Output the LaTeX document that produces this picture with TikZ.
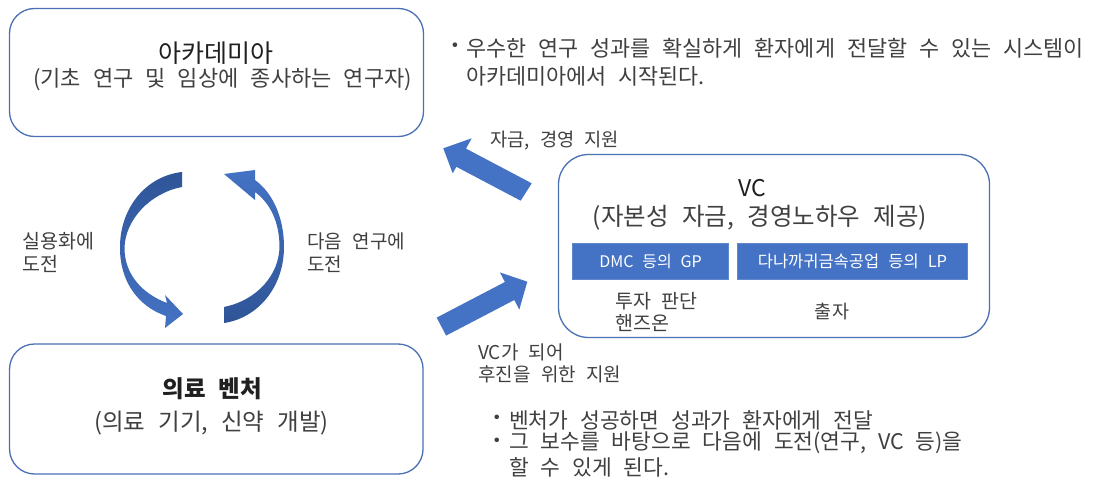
\documentclass[tikz,border=0pt]{standalone}
\usepackage{fontspec}
\setmainfont{Noto Sans CJK KR}
\newcommand\kfs[1]{\fontsize{#1}{#1}\selectfont\spaceskip=0.55em\relax}
\definecolor{txt}{HTML}{404040}
\definecolor{ttl}{HTML}{202020}
\definecolor{bord}{HTML}{4A70B5}
\definecolor{blu}{HTML}{4472C4}
\definecolor{dblu}{HTML}{2F5597}
\begin{document}
\begin{tikzpicture}[x=1pt,y=-1pt,
  box/.style={draw=bord, line width=1.3pt},
  tag/.style={text=txt, inner sep=0pt, anchor=west},
  ctag/.style={text=txt, inner sep=0pt},
  bar/.style={fill=blu, draw=blu!85!white, line width=0.5pt},
  blockarrow/.style={fill=blu}
]
\useasboundingbox (0,0) rectangle (1094,481);
\fill[white] (0,0) rectangle (1094,481);

% boxes
\node[box, rounded corners=25pt, minimum width=414pt, minimum height=128pt] (acad) at (216.5,72.5) {};
\node[box, rounded corners=25pt, minimum width=413.5pt, minimum height=130pt] (vent) at (216.3,409) {};
\node[box, rounded corners=30pt, minimum width=431pt, minimum height=183pt] (vc) at (774,246) {};
\node[bar, minimum width=156pt, minimum height=36pt] (gp) at (650.5,261.5) {};
\node[bar, minimum width=230pt, minimum height=36pt] (lp) at (852.5,261.5) {};

% box texts
\node[ctag, text=ttl, font=\kfs{25}] (acadT) at (216,53) {아카데미아};
\node[ctag, font=\kfs{22}] (acadS) at (222.5,80) {(기초 연구 및 임상에 종사하는 연구자)};
\node[ctag, text=ttl, font=\kfs{23.5}\bfseries] (ventT) at (212.5,389) {의료 벤처};
\node[ctag, font=\kfs{23.5}] (ventS) at (211.5,423) {(의료 기기, 신약 개발)};
\node[ctag, text=ttl, font=\kfs{23}] (vcT) at (752,188) {VC};
\node[ctag, font=\kfs{24.5}] (vcS) at (760,218) {(자본성 자금, 경영노하우 제공)};
\node[ctag, text=white, font=\kfs{16}] (gpT) at (gp) {DMC 등의 GP};
\node[ctag, text=white, font=\kfs{16.5}] (lpT) at (lp) {다나까귀금속공업 등의 LP};
\node[tag, font=\kfs{19.5}] (inv1) at (615,301) {투자 판단};
\node[tag, font=\kfs{19.5}] (inv2) at (615,323) {핸즈온};
\node[ctag, font=\kfs{18.5}] (inv3) at (832,312) {출자};

% labels
\node[tag, font=\kfs{18.7}] (fund) at (490,141) {자금, 경영 지원};
\node[tag, font=\kfs{19}] (sup1) at (478,352) {VC가 되어};
\node[tag, font=\kfs{19}] (sup2) at (478,374) {후진을 위한 지원};
\node[tag, font=\kfs{19.5}] (ch1) at (22,241) {실용화에};
\node[tag, font=\kfs{19.5}] (ch2) at (22,264) {도전};
\node[tag, font=\kfs{19}] (nx1) at (307,241) {다음 연구에};
\node[tag, font=\kfs{19}] (nx2) at (307,264) {도전};

% bullet texts
\node[ctag, font=\kfs{21.8}] (b0) at (455,48) {・};
\node[tag, font=\kfs{21.8}] (t1) at (466,48) {우수한 연구 성과를 확실하게 환자에게 전달할 수 있는 시스템이};
\node[tag, font=\kfs{21.8}] (t2) at (466,76) {아카데미아에서 시작된다.};
\node[ctag, font=\kfs{21.5}] (b1) at (497,420) {・};
\node[tag, font=\kfs{21.5}] (u1) at (509,420) {벤처가 성공하면 성과가 환자에게 전달};
\node[ctag, font=\kfs{21.5}] (b2) at (497,443) {・};
\node[tag, font=\kfs{21.5}] (u2) at (509,443) {그 보수를 바탕으로 다음에 도전(연구, VC 등)을};
\node[tag, font=\kfs{21.5}] (u3) at (509,467) {할 수 있게 된다.};

% curved arrows
\shade[top color=dblu, bottom color=blu]
  (182,172) -- (182,187) .. controls (150,193) and (125,220) .. (124.5,248)
  .. controls (124.5,275) and (143,294) .. (167,303) -- (165,295) -- (183,314)
  -- (165,328) -- (166,316) .. controls (137,306) and (119.5,280) .. (120,247)
  .. controls (120,208) and (146,176) .. (182,172) -- cycle;
\shade[top color=blu, bottom color=dblu]
  (224,323) -- (224,307) .. controls (258,300) and (279,274) .. (279.5,247)
  .. controls (279.5,222) and (270,203) .. (255,192) -- (255,200) -- (224,174)
  -- (255,170) -- (255,180) .. controls (273,193) and (284,218) .. (284,247)
  .. controls (284,287) and (258,318) .. (224,323) -- cycle;

% block arrows
\fill[blockarrow] (443.3,148.3) -- (471.7,138.3) -- (466.0,148.6) -- (531.7,183.3)
  -- (520.7,200.7) -- (456.4,166.8) -- (452.7,173.3) -- cycle;
\fill[blockarrow] (527.3,281.7) -- (499.9,272.4) -- (504.9,282) -- (436.7,317.6)
  -- (446.1,335.6) -- (514.3,300) -- (519.3,309.6) -- cycle;
\end{tikzpicture}
\end{document}
